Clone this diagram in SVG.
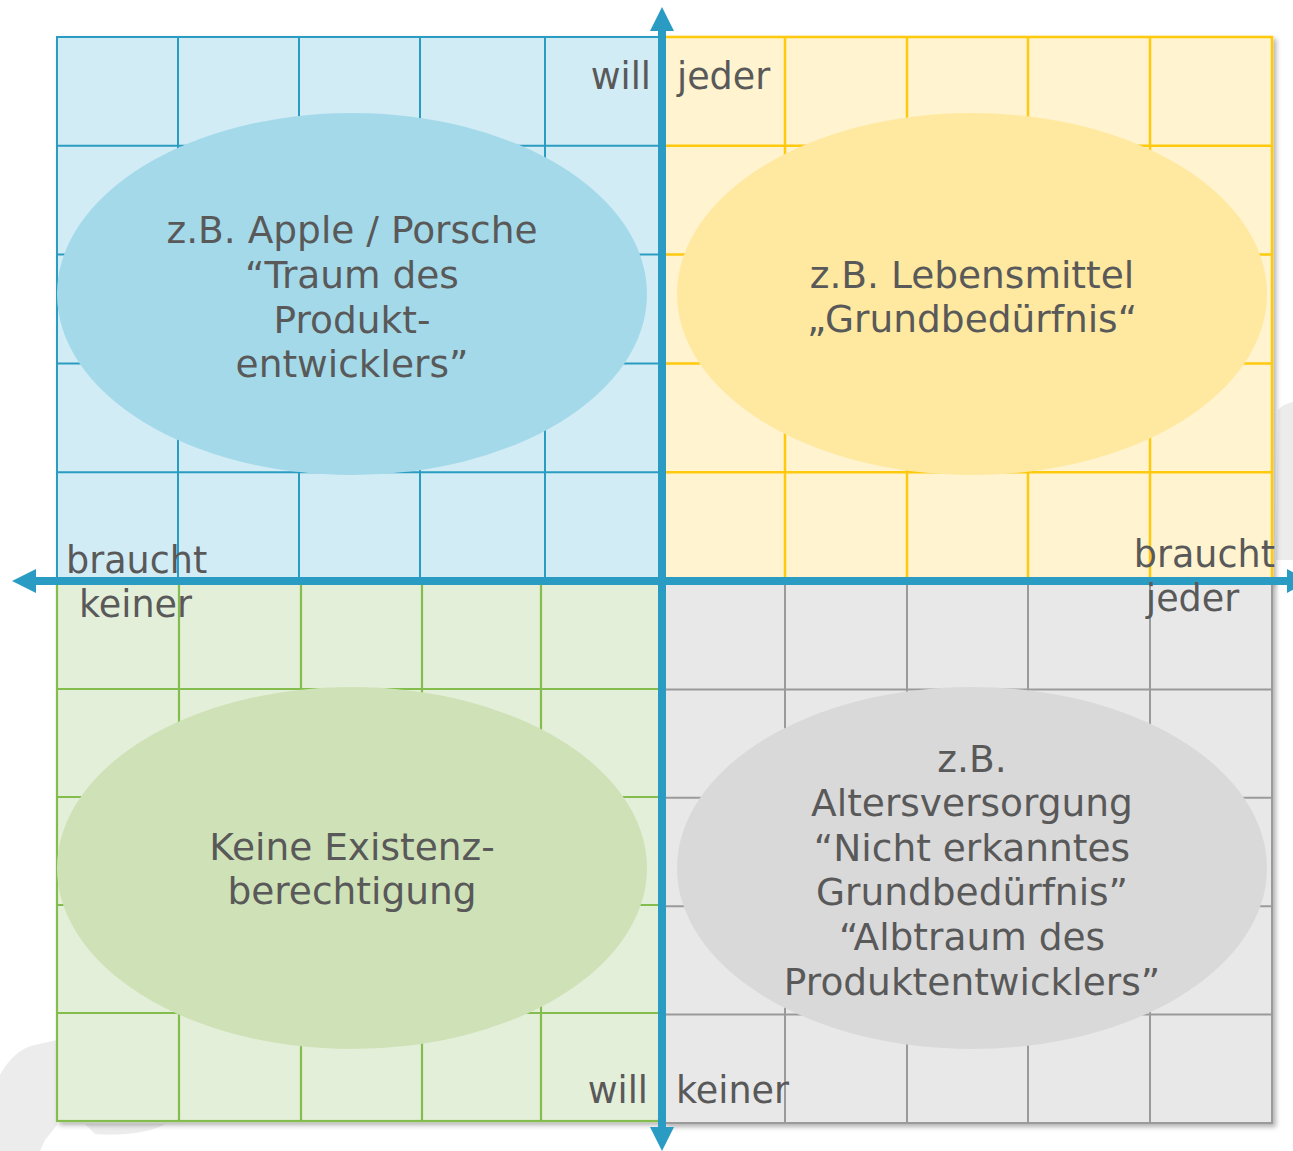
<svg xmlns="http://www.w3.org/2000/svg" width="1293" height="1151" viewBox="0 0 1293 1151">
<style>
  text { font-family: "DejaVu Sans", Verdana, sans-serif; fill: #595959; }
  .lbl { font-size: 36.5px; }
  .el { font-size: 37.5px; text-anchor: middle; }
  .gb { stroke: #2b9cc2; stroke-width: 2; fill: none; }
  .gy { stroke: #ffc90d; stroke-width: 2.5; fill: none; }
  .gg { stroke: #82bd4d; stroke-width: 2.2; fill: none; }
  .gr { stroke: #9a9a9a; stroke-width: 2; fill: none; }
  .fb { fill: #d2ecf5; }
  .fy { fill: #fff3d0; }
  .fg { fill: #e4efd9; }
  .fr { fill: #e8e8e8; }
  .axis { stroke: #2a9cc3; stroke-width: 8; fill: none; }
  .head { fill: #2a9cc3; }
  .blob { fill: #ececec; }
</style>
<defs>
  <filter id="sh" x="-5%" y="-5%" width="112%" height="112%">
    <feDropShadow dx="3" dy="3" stdDeviation="2.5" flood-color="#000" flood-opacity="0.3"/>
  </filter>
</defs>
<rect width="1293" height="1151" fill="#ffffff"/>
<g id="background">
  <path class="blob" d="M0 1075 C8 1060 20 1048 35 1045 L57 1040 L57 1125 L45 1140 L40 1151 L0 1151 Z"/>
  <path class="blob" d="M85 1124 L165 1124 C150 1133 120 1136 95 1134 Z"/>
  <path class="blob" d="M1278 410 C1284 403 1293 402 1293 402 L1293 560 L1276 560 Z"/>
</g>
<g id="quadrant-blue" filter="url(#sh)">
  <rect x="57" y="37" width="604" height="544" class="fb"/>
  <rect x="57" y="37" width="604" height="544" class="gb"/>
  <path class="gb" d="M178 37V581M299 37V581M420 37V581M545 37V581M57 145.8H661M57 254.6H661M57 363.4H661M57 472.2H661"/>
</g>
<g id="quadrant-yellow" filter="url(#sh)">
  <rect x="664" y="37" width="608" height="544" class="fy"/>
  <rect x="664" y="37" width="608" height="544" class="gy"/>
  <path class="gy" d="M785 37V581M907 37V581M1028 37V581M1150 37V581M664 145.8H1272M664 254.6H1272M664 363.4H1272M664 472.2H1272"/>
</g>
<g id="quadrant-green" filter="url(#sh)">
  <rect x="57" y="581" width="604" height="540" class="fg"/>
  <rect x="57" y="581" width="604" height="540" class="gg"/>
  <path class="gg" d="M179 581V1121M301 581V1121M422 581V1121M541 581V1121M57 689H661M57 797H661M57 905H661M57 1013H661"/>
</g>
<g id="quadrant-grey" filter="url(#sh)">
  <rect x="664" y="581" width="608" height="542" class="fr"/>
  <rect x="664" y="581" width="608" height="542" class="gr"/>
  <path class="gr" d="M785 581V1123M907 581V1123M1028 581V1123M1150 581V1123M664 689.4H1272M664 797.8H1272M664 906.2H1272M664 1014.6H1272"/>
</g>
<g id="node-apple">
  <ellipse cx="352" cy="294" rx="295" ry="181" fill="#a4d9ea"/>
  <text class="el" x="352" y="243">z.B. Apple / Porsche</text>
  <text class="el" x="352" y="288">“Traum des</text>
  <text class="el" x="352" y="333">Produkt-</text>
  <text class="el" x="352" y="377">entwicklers”</text>
</g>
<g id="node-lebensmittel">
  <ellipse cx="972" cy="294" rx="295" ry="181" fill="#ffe9a1"/>
  <text class="el" x="972" y="288">z.B. Lebensmittel</text>
  <text class="el" x="972" y="332">„Grundbedürfnis“</text>
</g>
<g id="node-keine">
  <ellipse cx="352" cy="868" rx="295" ry="181" fill="#cfe2b7"/>
  <text class="el" x="352" y="860">Keine Existenz-</text>
  <text class="el" x="352" y="904">berechtigung</text>
</g>
<g id="node-alter">
  <ellipse cx="972" cy="868" rx="295" ry="181" fill="#d9d9d9"/>
  <text class="el" x="972" y="772">z.B.</text>
  <text class="el" x="972" y="816">Altersversorgung</text>
  <text class="el" x="972" y="861">“Nicht erkanntes</text>
  <text class="el" x="972" y="905">Grundbedürfnis”</text>
  <text class="el" x="972" y="950">“Albtraum des</text>
  <text class="el" x="972" y="995">Produktentwicklers”</text>
</g>
<g id="connectors">
  <line class="axis" x1="662" y1="28" x2="662" y2="1130"/>
  <line class="axis" x1="34" y1="581" x2="1290" y2="581"/>
  <polygon class="head" points="662,7 650,31 674,31"/>
  <polygon class="head" points="662,1151 650,1127 674,1127"/>
  <polygon class="head" points="12,581 36,569 36,593"/>
  <polygon class="head" points="1310,581 1287,569 1287,593"/>
</g>
<g id="axis-labels">
  <text class="lbl" x="651" y="89" text-anchor="end">will</text>
  <text class="lbl" x="677" y="89">jeder</text>
  <text class="lbl" x="66" y="573">braucht</text>
  <text class="lbl" x="79" y="617">keiner</text>
  <text class="lbl" x="1275" y="567" text-anchor="end">braucht</text>
  <text class="lbl" x="1146" y="611">jeder</text>
  <text class="lbl" x="648" y="1103" text-anchor="end">will</text>
  <text class="lbl" x="676" y="1103">keiner</text>
</g>
</svg>
